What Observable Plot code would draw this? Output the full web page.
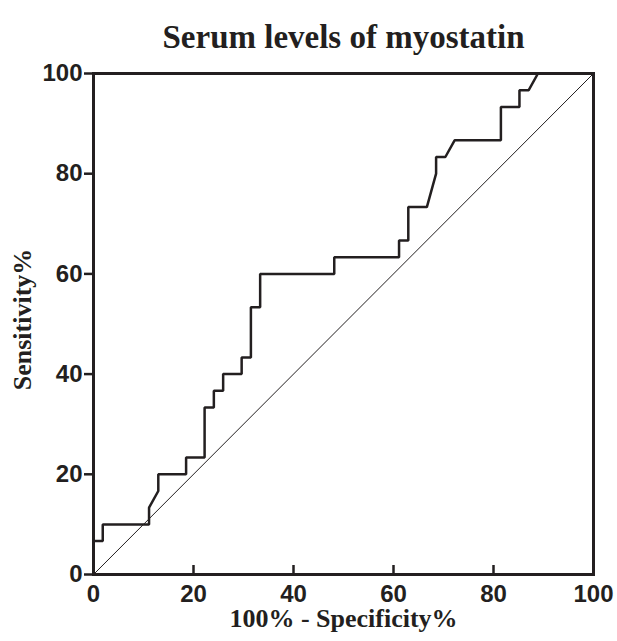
<!DOCTYPE html>
<html>
<head>
<meta charset="utf-8">
<script src="https://cdn.jsdelivr.net/npm/d3@7"></script>
<script src="https://cdn.jsdelivr.net/npm/@observablehq/plot@0.6"></script>
<style>
  html, body { margin: 0; padding: 0; background: #fff; }
  #chart svg { display: block; }
</style>
</head>
<body>
<div id="chart"></div>
<script>
// ROC curve: 100% - Specificity% (x) vs Sensitivity% (y)
const fpr  = [0, 0, 1.85, 1.85, 11.11, 11.11, 12.96, 12.96, 18.52, 18.52, 22.22, 22.22, 24.07, 24.07, 25.93, 25.93, 29.63, 29.63, 31.48, 31.48, 33.33, 33.33, 48.15, 48.15, 61.11, 61.11, 62.96, 62.96, 66.67, 68.52, 68.52, 70.37, 72.22, 81.48, 81.48, 85.19, 85.19, 87.04, 88.89, 100];
const sens = [0, 6.67, 6.67, 10, 10, 13.33, 16.67, 20, 20, 23.33, 23.33, 33.33, 33.33, 36.67, 36.67, 40, 40, 43.33, 43.33, 53.33, 53.33, 60, 60, 63.33, 63.33, 66.67, 66.67, 73.33, 73.33, 80, 83.33, 83.33, 86.67, 86.67, 93.33, 93.33, 96.67, 96.67, 100, 100];
// Reference (chance) line
const refX = [0, 100];
const refY = [0, 100];
const xTicks = [0, 20, 40, 60, 80, 100];
const yTicks = [0, 20, 40, 60, 80, 100];
const titleText = "Serum levels of myostatin";
const xLabel = "100% - Specificity%";
const yLabel = "Sensitivity%";

const roc = fpr.map((x, i) => ({x, y: sens[i]}));
const ref = refX.map((x, i) => ({x, y: refY[i]}));
const ink = "#231f20";
const serif = "'Liberation Serif', 'Times New Roman', serif";
const sans = "'Liberation Sans', Arial, sans-serif";

const chart = Plot.plot({
  width: 617,
  height: 641,
  marginLeft: 93,
  marginRight: 24,
  marginTop: 73,
  marginBottom: 67,
  style: {background: "#fff", color: ink, fontFamily: sans},
  x: {domain: [0, 100]},
  y: {domain: [0, 100]},
  marks: [
    Plot.line(ref, {x: "x", y: "y", stroke: ink, strokeWidth: 1}),
    Plot.line(roc, {x: "x", y: "y", stroke: ink, strokeWidth: 2.5, strokeLinejoin: "miter"}),
    Plot.frame({stroke: ink, strokeWidth: 3}),
    Plot.ruleX(xTicks.filter(d => d > 0 && d < 100), {stroke: ink, strokeWidth: 2.5, insetTop: 492}),
    Plot.axisX(xTicks, {tickSize: 0, tickPadding: 10, fontSize: 24, fontWeight: "bold", fill: ink, label: null}),
    Plot.axisY(yTicks, {tickSize: 9, tickPadding: 2, strokeWidth: 2.5, fontSize: 24, fontWeight: "bold", fill: ink, stroke: ink, label: null}),
    Plot.text([titleText], {frameAnchor: "top", textAnchor: "middle", dy: -48.5, fontSize: 33, fontWeight: "bold", fontFamily: serif, fill: ink}),
    Plot.text([xLabel], {frameAnchor: "bottom", textAnchor: "middle", dy: 52.5, fontSize: 26, fontWeight: "bold", fontFamily: serif, fill: ink}),
    Plot.text([yLabel], {frameAnchor: "left", textAnchor: "middle", dx: -70.5, dy: -4.5, rotate: -90, fontSize: 26, fontWeight: "bold", fontFamily: serif, fill: ink})
  ]
});
document.getElementById("chart").append(chart);
</script>
</body>
</html>
